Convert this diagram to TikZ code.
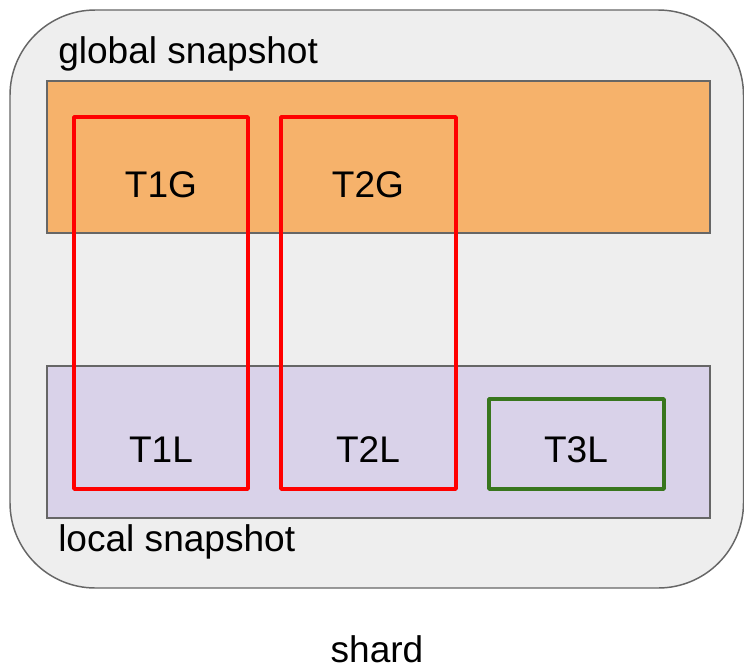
\documentclass[tikz,border=0pt]{standalone}
\usepackage{fontspec}
\setmainfont{Liberation Sans}
\usepackage{tikz}
\usetikzlibrary{positioning}
\definecolor{shardgray}{HTML}{EEEEEE}
\definecolor{edgegray}{HTML}{666666}
\definecolor{globalfill}{HTML}{F6B26B}
\definecolor{localfill}{HTML}{D9D2E9}
\definecolor{txred}{HTML}{FF0000}
\definecolor{txgreen}{HTML}{38761D}

\begin{document}
\begin{tikzpicture}[x=0.75pt, y=-0.75pt,
  lbl/.style={font=\fontsize{27.8}{33}\selectfont, inner sep=0pt},
  snap/.style={draw=edgegray, line width=1.5pt},
  tx/.style={draw=txred, line width=2.6pt, line join=round},
  txok/.style={draw=txgreen, line width=2.6pt, line join=round}
]
  \useasboundingbox (0,0) rectangle (744,665);
  % shard
  \draw[fill=shardgray, draw=edgegray, line width=1.1pt, rounded corners=64pt] (10,10) rectangle (743.5,588);
  % snapshots
  \draw[snap, fill=globalfill] (47,81) rectangle (710,233);
  \draw[snap, fill=localfill] (47,366) rectangle (710,518);
  \node[lbl, anchor=base west] (global) at (58,63) {global snapshot};
  \node[lbl, anchor=base west] (local) at (58,551) {local snapshot};
  % transactions
  \draw[tx] (74,117) rectangle (248,489);
  \draw[tx] (281,117) rectangle (456,489);
  \draw[txok] (489,399) rectangle (664,489);
  \node[lbl, anchor=base] (t1g) at (161,197) {T1G};
  \node[lbl, anchor=base] (t2g) at (368,197) {T2G};
  \node[lbl, anchor=base] (t1l) at (161,462) {T1L};
  \node[lbl, anchor=base] (t2l) at (368,462) {T2L};
  \node[lbl, anchor=base] (t3l) at (576,462) {T3L};
  \node[lbl, anchor=base] (shard) at (377,662) {shard};
\end{tikzpicture}
\end{document}
